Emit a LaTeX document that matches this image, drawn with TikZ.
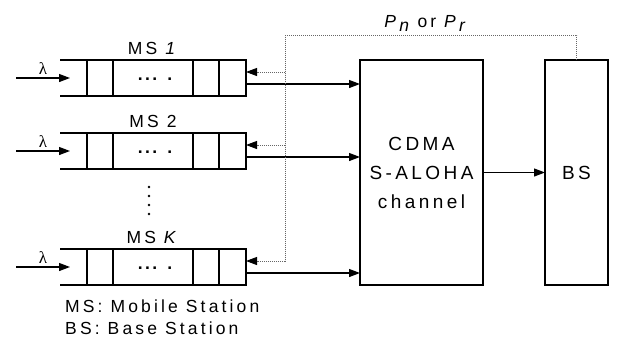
\documentclass[tikz,border=0pt]{standalone}
\usepackage{fontspec}
\setmainfont{Liberation Sans}
\newfontfamily\grkfont{Liberation Serif}
\usetikzlibrary{arrows.meta,positioning}

\begin{document}
\begin{tikzpicture}[
  x=1pt, y=-1pt,
  font=\fontsize{17.5}{22}\selectfont\addfontfeature{LetterSpace=18},
  queue/.style={minimum width=186pt, minimum height=36pt, inner sep=0pt, outer sep=0pt},
  blk/.style={draw, line width=1.3pt, inner sep=0pt, outer sep=0pt, align=center,
              font=\fontsize{19}{29}\selectfont\addfontfeature{LetterSpace=18}},
  arr/.style={-{Triangle[length=11pt,width=8pt]}, line width=1.2pt},
  fb/.style={line width=0.9pt, black!60, dash pattern=on 1pt off 1pt},
  fbarr/.style={fb, -{Triangle[length=11pt,width=8pt,color=black]}},
  node distance=37pt and 114pt]
  \useasboundingbox (0,0) rectangle (618,341);
  \node[queue] (q1) at (153,78) {};
  \node[queue, below=of q1] (q2) {};
  \node[queue, below=80pt of q2] (qK) {};
  \node[blk, minimum width=123pt, minimum height=225pt, anchor=north west]
       (ch) at ([xshift=114pt]q1.north east) {CDMA\\S-ALOHA\\channel};
  \node[blk, minimum width=63pt, minimum height=225pt, right=62pt of ch] (bs) {BS};
  \node[above=2pt of q1] (ms1) {MS \textit{1}};
  \node[above=2pt of q2] (ms2) {MS 2};
  \node[above=2pt of qK] (msK) {MS \textit{K}};
  \coordinate (vdots) at (149,187);
  \foreach \i in {0,9,18,27}
    \fill (vdots) ++(0,\i) circle (1.4pt);
  \coordinate (fbtop) at (285,35);
  % queues, inputs and outputs
  \foreach \q in {q1,q2,qK}{
    \draw[line width=1.3pt] (\q.north west) -- (\q.north east) -- (\q.south east) -- (\q.south west);
    \foreach \d in {27,53,133,159}
      \draw[line width=1.3pt] ([xshift=\d pt]\q.north west) -- ([xshift=\d pt]\q.south west);
    \node[anchor=base, font=\fontsize{17.5}{17.5}\selectfont\bfseries\addfontfeature{LetterSpace=10}]
      at ([xshift=2pt, yshift=-2pt]\q.center) {.\hspace{2.5pt}.\hspace{2.5pt}.\hspace{10pt}.};
    \path ([xshift=-44pt]\q.west) coordinate (\q-in)
          ([yshift=6pt]\q.east) coordinate (\q-fb)
          ([yshift=-6pt]\q.east) coordinate (\q-out);
    \draw[arr] (\q-in) -- ([xshift=10pt]\q.west)
          node[midway, above=0pt, font=\fontsize{17}{17}\grkfont] {λ};
    \draw[arr] (\q-out) -- (\q-out -| ch.west);
    \draw[fbarr] (fbtop |- \q-fb) -- (\q-fb);
  }
  \draw[arr] (ch) -- (bs);
  % feedback from the base station
  \draw[fb] (bs.north) |- (fbtop)
        node[pos=0.76, above=0pt, text=black] {\textit{P}$_{\textit{n}}$ or \textit{P}$_{\textit{r}}$}
        -- (fbtop |- qK-fb);
  \node[anchor=north west, align=left, inner sep=0pt] (legend)
       at ([xshift=5pt, yshift=-14.5pt]qK.south west) {MS: Mobile Station\\BS: Base Station};
\end{tikzpicture}
\end{document}
